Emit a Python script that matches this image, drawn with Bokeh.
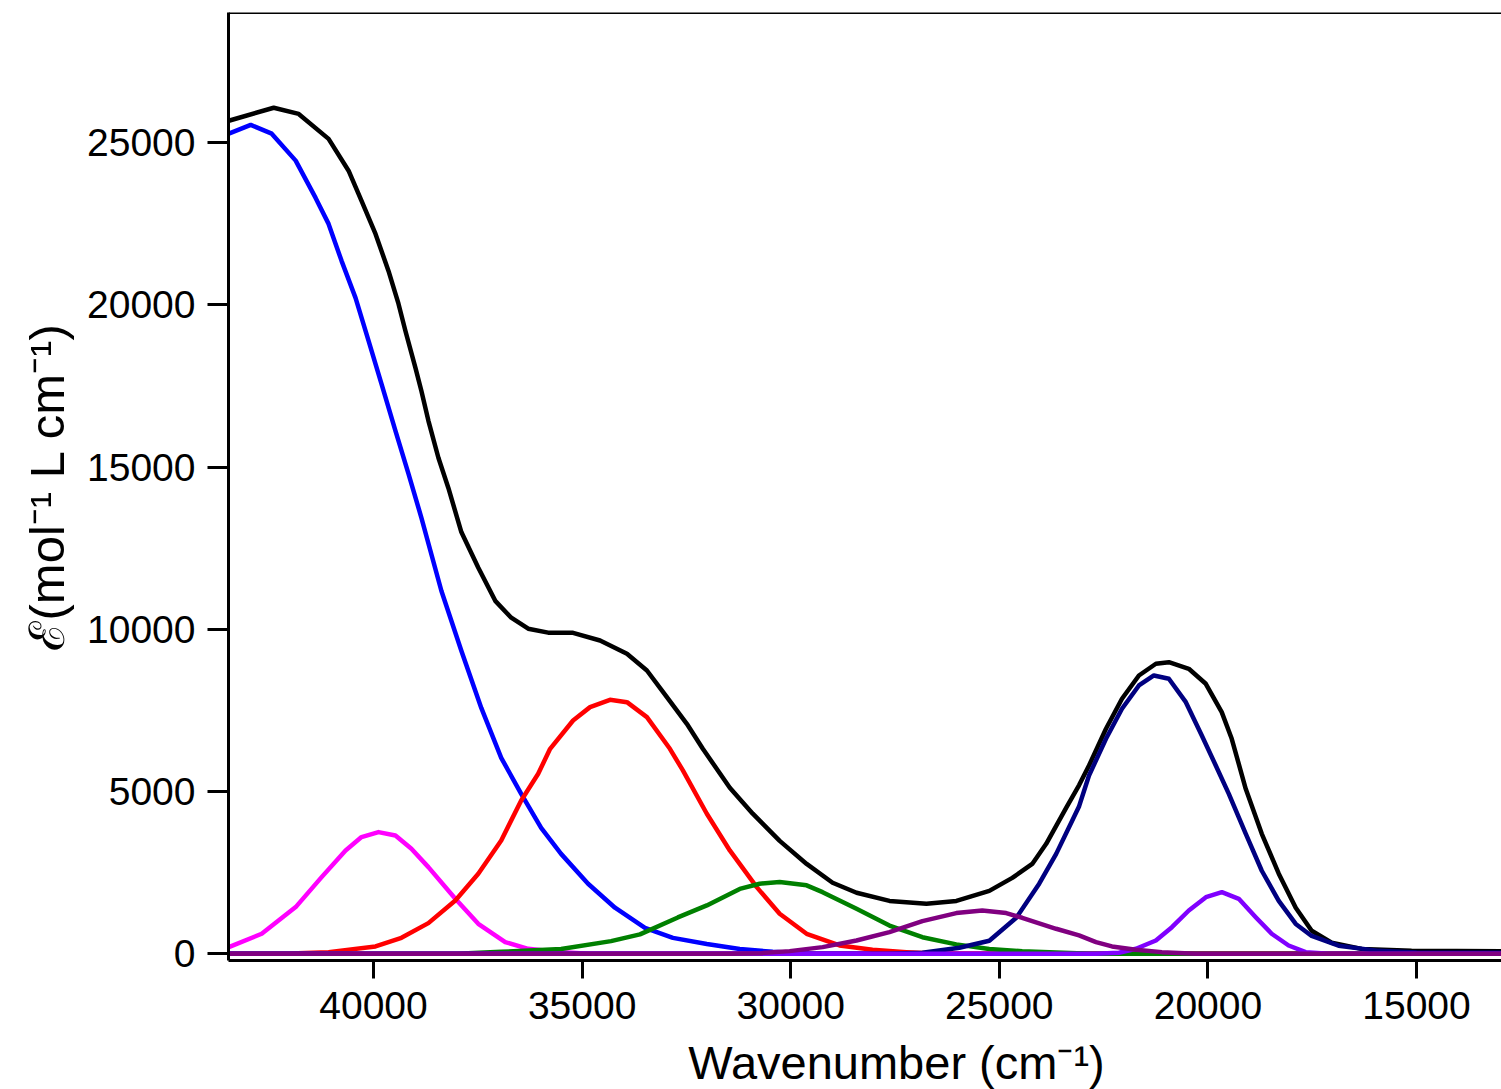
from bokeh.plotting import figure
from bokeh.models import Range1d, FixedTicker, Span
from bokeh.layouts import column
from bokeh.core.properties import value
from bokeh.embed import file_html
from bokeh.resources import INLINE

# ---- data (wavenumber in cm^-1, epsilon in mol^-1 L cm^-1) ----
total_wn = [43469, 42392, 41794, 41077, 40598, 40287, 39952, 39641, 39402, 39235, 38995,
            38852, 38684, 38445, 38206, 37895, 37488, 37082, 36699, 36292, 35814, 35217,
            34571, 33925, 33447, 32968, 32490, 32107, 31460, 30910, 30264,
            29618, 28996, 28421, 27632, 26747, 26029, 25240, 24689, 24211, 23876, 23398,
            23087, 22850, 22443, 22060, 21654, 21247, 20936, 20458, 20051, 19669, 19429,
            19094, 18709, 18302, 17895, 17513, 17034, 16316, 15120, 12963]
total_eps = [25680, 26080, 25890, 25120, 24140, 23210, 22190, 21050, 20040, 19200, 18060,
             17350, 16430, 15290, 14360, 13000, 11900, 10880, 10360, 10020, 9900, 9895,
             9658, 9248, 8733, 7910, 7089, 6319, 5120, 4320, 3480,
             2770, 2190, 1880, 1630, 1540, 1630, 1940, 2340, 2770, 3390, 4500,
             5200, 5803, 6936, 7861, 8579, 8940, 8990, 8786, 8323, 7449, 6628,
             5086, 3700, 2470, 1420, 710, 340, 150, 90, 80]

band1_wn = [43469, 42943, 42440, 41866, 41388, 41077, 40766, 40431, 40120, 39809, 39474,
            39163, 38852, 38374, 37895, 37417, 36939, 36460, 35982, 35504, 34857, 34212,
            33494, 32824, 32011, 31222, 30432, 29500, 12963]
band1_eps = [25280, 25550, 25280, 24450, 23300, 22500, 21360, 20220, 18900, 17570, 16120,
             14800, 13440, 11190, 9340, 7580, 6040, 4930, 3880, 3080, 2160, 1420,
             800, 490, 300, 150, 60, 0, 0]

band2_wn = [43469, 42680, 41866, 41244, 40670, 40288, 39881, 39474, 39092, 38685, 38039,
            37489, 36843, 36293, 35504, 34800, 12963]
band2_eps = [206, 617, 1439, 2363, 3186, 3597, 3751, 3648, 3237, 2672, 1696,
             925, 360, 154, 51, 0, 0]

band3_wn = [43500, 42000, 41077, 39953, 39331, 38685, 38039, 37489, 36939, 36460, 36053,
            35767, 35217, 34810, 34332, 33925, 33447, 32896, 32585, 32011, 31460, 30815,
            30265, 29619, 28830, 28040, 27227, 26400, 12963]
band3_eps = [0, 10, 51, 226, 493, 945, 1644, 2466, 3494, 4727, 5549,
             6319, 7192, 7603, 7829, 7757, 7295, 6319, 5652, 4316, 3186, 2055,
             1233, 617, 257, 123, 51, 0, 0]

band4_wn = [43500, 38000, 36939, 35504, 34307, 33614, 32705, 32011, 31222, 30744, 30265,
            29619, 29236, 28423, 27633, 26844, 26031, 25242, 24452, 23639, 22800, 12963]
band4_eps = [0, 0, 60, 150, 390, 600, 1120, 1490, 2000, 2160, 2210,
             2110, 1900, 1390, 870, 510, 290, 150, 80, 40, 0, 0]

band5_wn = [43500, 27700, 26843, 25957, 25240, 24594, 24044, 23637, 23254, 23087, 22850,
            22443, 22060, 21654, 21295, 20936, 20529, 20147, 19812, 19499, 19092, 18709,
            18302, 17895, 17513, 16868, 15913, 15000, 12963]
band5_eps = [0, 0, 30, 185, 400, 1110, 2160, 3080, 4100, 4550, 5496,
             6628, 7553, 8271, 8579, 8477, 7756, 6730, 5805, 4930, 3700, 2560,
             1630, 920, 550, 250, 90, 40, 30]

band6_wn = [43500, 22700, 22132, 21724, 21247, 20863, 20458, 20048, 19666, 19260, 18854,
            18472, 18065, 17657, 17109, 12963]
band6_eps = [0, 0, 30, 154, 410, 820, 1335, 1745, 1900, 1695, 1128,
             617, 256, 50, 0, 0]

band7_wn = [43500, 31500, 30700, 30026, 29236, 28423, 27633, 26844, 26031, 25409, 24835,
            24452, 23639, 23089, 22682, 22300, 21725, 21104, 20291, 12963]
band7_eps = [0, 0, 20, 82, 205, 411, 668, 1007, 1254, 1336, 1254,
             1110, 771, 565, 360, 226, 123, 51, 0, 0]

series = [
    (total_wn, total_eps, "#000000"),
    (band1_wn, band1_eps, "#0000FF"),
    (band2_wn, band2_eps, "#FF00FF"),
    (band3_wn, band3_eps, "#FF0000"),
    (band4_wn, band4_eps, "#008000"),
    (band5_wn, band5_eps, "#000080"),
    (band6_wn, band6_eps, "#8000FF"),
    (band7_wn, band7_eps, "#800080"),
]

x_ticks = [40000, 35000, 30000, 25000, 20000, 15000]
y_ticks = [0, 5000, 10000, 15000, 20000, 25000]
x_title = "Wavenumber (cm\u207B\u00B9)"
y_title = "\u2130(mol\u207B\u00B9 L cm\u207B\u00B9)"

FONT = "Liberation Sans"

p = figure(width=1501, height=1035, output_backend="svg", toolbar_location=None,
           x_range=Range1d(43476, 12963), y_range=Range1d(-207, 29016),
           min_border_left=228, min_border_top=12, min_border_bottom=75,
           min_border_right=0)

p.outline_line_color = None
p.grid.visible = False
p.background_fill_color = "white"
p.border_fill_color = "white"

for wn, eps, col in series:
    p.line(wn, eps, line_color=col, line_width=4.5, line_join="round")

# top frame line
p.add_layout(Span(location=29016, dimension="width", line_color="black", line_width=3))

for ax in (p.xaxis[0], p.yaxis[0]):
    ax.axis_line_width = 3
    ax.axis_line_color = "black"
    ax.major_tick_line_width = 3
    ax.major_tick_line_color = "black"
    ax.major_tick_in = 0
    ax.minor_tick_line_color = None
    ax.major_label_text_font = FONT
    ax.major_label_text_font_size = "39px"
    ax.major_label_text_color = "black"

p.xaxis[0].ticker = FixedTicker(ticks=x_ticks)
p.yaxis[0].ticker = FixedTicker(ticks=y_ticks)
p.xaxis[0].major_tick_out = 18
p.yaxis[0].major_tick_out = 21
p.xaxis[0].major_label_standoff = 13
p.yaxis[0].major_label_standoff = 12

p.yaxis[0].axis_label = y_title
p.yaxis[0].axis_label_text_font = FONT
p.yaxis[0].axis_label_text_font_size = "49px"
p.yaxis[0].axis_label_text_font_style = "normal"
p.yaxis[0].axis_label_text_color = "black"
p.yaxis[0].axis_label_standoff = 10

# strip below the plot carrying the x-axis title (its frame spans canvas x 228..1501)
t = figure(width=1501, height=54, output_backend="svg", toolbar_location=None,
           x_range=Range1d(228, 1501), y_range=Range1d(0, 54),
           min_border_left=228, min_border_right=0, min_border_top=0, min_border_bottom=0)
t.outline_line_color = None
t.axis.visible = False
t.grid.visible = False
t.border_fill_color = "white"
t.background_fill_color = "white"
t.text(x=[896], y=[27], text=[x_title], text_font=value(FONT), text_font_size="47px",
       text_align="center", text_baseline="alphabetic", text_color="black")

layout = column(p, t, spacing=0)
open("out.html", "w").write(file_html(layout, INLINE))
